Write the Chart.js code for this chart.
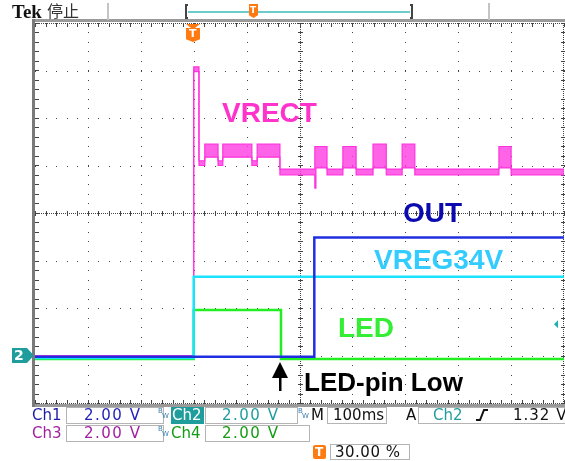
<!DOCTYPE html>
<html>
<head>
<meta charset="utf-8">
<script src="https://cdn.jsdelivr.net/npm/chart.js@4.4.1/dist/chart.umd.min.js"></script>
<style>
  body { margin: 0; background: #fff; }
  #wrap { position: relative; width: 565px; height: 461px; overflow: hidden; font-family: "DejaVu Sans", sans-serif; }
  #scope { position: absolute; left: 0; top: 0; }
  .t { position: absolute; white-space: pre; font-size: 15px; line-height: 15px; }
  .box { position: absolute; border: 1px solid #b4b4b4; box-sizing: border-box; height: 17px; }
  .lbl { position: absolute; white-space: pre; font-family: "Liberation Sans", Arial, sans-serif; font-weight: bold; font-size: 28px; line-height: 28px; }
  .bw { position: absolute; font-size: 7px; line-height: 7px; color: #3a7fb0; }
</style>
</head>
<body>
<div id="wrap">
  <canvas id="scope" width="565" height="461"></canvas>

  <!-- top bar -->
  <div class="t" style="left:12px;top:2px;font-family:'Liberation Serif',serif;font-weight:bold;font-size:19px;line-height:19px;color:#111">Tek</div>
  <div class="t" style="left:47px;top:2px;font-family:'Noto Sans CJK SC',sans-serif;font-size:16px;line-height:16px;color:#333">停止</div>
  <div style="position:absolute;left:107px;top:3px;width:2px;height:17px;background:#c4c4c4"></div>
  <div style="position:absolute;left:488px;top:3px;width:2px;height:17px;background:#c4c4c4"></div>
  <div style="position:absolute;left:185px;top:4px;width:3px;height:15px;border:2px solid #444;border-right:none;box-sizing:border-box"></div>
  <div style="position:absolute;left:410px;top:4px;width:3px;height:15px;border:2px solid #444;border-left:none;box-sizing:border-box"></div>
  <div style="position:absolute;left:188px;top:11px;width:222px;height:2px;background:#6ccccc"></div>
  <div style="position:absolute;left:249px;top:4px;width:9px;height:14px;background:#ff7a10;clip-path:polygon(0 0,100% 0,100% 80%,50% 100%,0 80%)"></div>
  <div class="t" style="left:250px;top:6px;font-size:9px;line-height:9px;font-weight:bold;color:#fff">T</div>

  <!-- trigger position marker -->
  <div style="position:absolute;left:186px;top:24px;width:14px;height:18px;background:#ff7a10;clip-path:polygon(0 0,100% 0,64% 22%,100% 22%,100% 85%,50% 100%,0 85%,0 22%,36% 22%)"></div>
  <div class="t" style="left:189px;top:28px;font-size:11px;line-height:11px;font-weight:bold;color:#fff">T</div>

  <!-- channel 2 ground marker -->
  <div style="position:absolute;left:12px;top:348px;width:22px;height:15px;background:#1f9d9d;clip-path:polygon(0 0,68% 0,100% 50%,68% 100%,0 100%)"></div>
  <div class="t" style="left:14px;top:348px;font-weight:bold;color:#fff;font-size:14px;line-height:15px">2</div>

  <!-- trace labels -->
  <div class="lbl" style="left:222px;top:99px;color:#ff33cc">VRECT</div>
  <div class="lbl" style="left:403px;top:199px;color:#0a0ab0">OUT</div>
  <div class="lbl" style="left:374px;top:246px;color:#33ccff">VREG34V</div>
  <div class="lbl" style="left:338px;top:314px;color:#33ee33">LED</div>
  <div class="lbl" style="left:304px;top:369px;color:#000;font-size:26px;line-height:26px">LED-pin Low</div>
  <svg style="position:absolute;left:270px;top:360px" width="20" height="32">
    <polygon points="10,2 18,18 2,18" fill="#000"/>
    <rect x="9" y="16" width="2.5" height="15" fill="#000"/>
  </svg>

  <!-- status row 1 -->
  <div class="t" style="left:32px;top:408px;color:#1c1ca8">Ch1</div>
  <div class="box" style="left:66px;top:407px;width:98px"></div>
  <div class="t" style="left:84px;top:408px;color:#2222bb;letter-spacing:1.5px">2.00 V</div>
  <div class="bw" style="left:158px;top:408px">B</div><div class="bw" style="left:162px;top:413px">W</div>
  <div style="position:absolute;left:171px;top:407px;width:33px;height:17px;background:#1f9d9d"></div>
  <div class="t" style="left:172px;top:408px;color:#fff">Ch2</div>
  <div class="box" style="left:205px;top:407px;width:93px"></div>
  <div class="t" style="left:222px;top:408px;color:#1f9d9d;letter-spacing:1.5px">2.00 V</div>
  <div class="bw" style="left:298px;top:408px">B</div><div class="bw" style="left:302px;top:413px">W</div>
  <div class="t" style="left:311px;top:408px;color:#111">M</div>
  <div class="box" style="left:327px;top:407px;width:60px"></div>
  <div class="t" style="left:333px;top:408px;color:#111">100ms</div>
  <div class="t" style="left:406px;top:408px;color:#111">A</div>
  <div class="box" style="left:418px;top:407px;width:150px"></div>
  <div class="t" style="left:433px;top:408px;color:#1f9d9d">Ch2</div>
  <svg style="position:absolute;left:475px;top:408px" width="14" height="14">
    <polyline points="1,12 5,12 9,2 13,2" fill="none" stroke="#111" stroke-width="2"/>
  </svg>
  <div class="t" style="left:513px;top:408px;color:#111;letter-spacing:1px">1.32 V</div>

  <!-- status row 2 -->
  <div class="t" style="left:32px;top:426px;color:#a01fa0">Ch3</div>
  <div class="box" style="left:66px;top:425px;width:98px"></div>
  <div class="t" style="left:84px;top:426px;color:#a01fa0;letter-spacing:1.5px">2.00 V</div>
  <div class="bw" style="left:158px;top:426px">B</div><div class="bw" style="left:162px;top:431px">W</div>
  <div class="t" style="left:171px;top:426px;color:#139c13">Ch4</div>
  <div class="box" style="left:205px;top:425px;width:105px"></div>
  <div class="t" style="left:222px;top:426px;color:#139c13;letter-spacing:1.5px">2.00 V</div>

  <!-- status row 3 -->
  <div style="position:absolute;left:313px;top:445px;width:13px;height:14px;background:#ff7a10;border-radius:2px"></div>
  <div class="t" style="left:315px;top:446px;font-size:12px;line-height:12px;font-weight:bold;color:#fff">T</div>
  <div class="box" style="left:330px;top:444px;width:80px;height:16px"></div>
  <div class="t" style="left:335px;top:445px;color:#111;letter-spacing:0.5px">30.00 %</div>
</div>

<script>
// horizontal: ms, 100 ms/div, trigger at 0 (30 %)
const timeRange = [-300, 700]
// vertical: volts, 2 V/div, all grounds one division above the bottom
const voltRange = [-2, 14]
const triggerLevel = 1.32

// Ch3 VRECT: segment boundaries and the upper/lower edge of the noisy trace
const vrectEdges = [-300, 0, 10, 21, 46, 55, 110, 120, 163, 229, 231, 252, 282, 307, 339, 364, 394, 418, 577, 600, 700]
const vrectHigh = [0, 12.15, 8.2, 8.9, 8.2, 8.9, 8.2, 8.9, 7.85, 8.8, 8.8, 7.85, 8.8, 7.85, 8.9, 7.85, 8.9, 7.85, 8.8, 7.85]
const vrectLow = [0, 11.95, 8.0, 8.35, 8.0, 8.35, 8.0, 8.35, 7.6, 7.05, 7.9, 7.6, 7.9, 7.6, 7.9, 7.6, 7.9, 7.6, 7.9, 7.6]

// Ch1 OUT
const outEdges = [-300, 228, 700]
const outLevel = [-0.05, 4.97]
// Ch2 VREG34V
const vregEdges = [-300, 0, 700]
const vregLevel = [-0.1, 3.32]
// Ch4 LED
const ledEdges = [-300, 0, 165, 700]
const ledLevel = [-0.15, 1.92, -0.15]

function steps(edges, levels) {
  const pts = []
  for (let i = 0; i < levels.length; i++) {
    pts.push({ x: edges[i], y: levels[i] })
    pts.push({ x: edges[i + 1], y: levels[i] })
  }
  return pts
}

const graticule = {
  id: 'graticule',
  beforeDatasetsDraw(chart) {
    const { ctx, chartArea: a, scales: { x, y } } = chart
    const px = t => Math.round(x.getPixelForValue(t))
    const py = v => Math.round(y.getPixelForValue(v))
    ctx.save()
    // frame
    ctx.fillStyle = '#9a9a9a'
    ctx.fillRect(a.left - 2, a.top - 4, a.right - a.left + 4, 3)
    ctx.fillRect(a.left - 2, a.bottom + 1, a.right - a.left + 4, 3)
    ctx.fillStyle = '#7a7a7a'
    ctx.fillRect(a.left - 3, a.top - 4, 3, a.bottom - a.top + 8)

    ctx.fillStyle = '#444'
    // grid dots
    for (let t = timeRange[0]; t <= timeRange[1]; t += 100) {
      for (let v = voltRange[0]; v <= voltRange[1] + 0.01; v += 0.4) ctx.fillRect(px(t), py(v), 1, 1)
    }
    for (let v = voltRange[0]; v <= voltRange[1] + 0.01; v += 2) {
      for (let t = timeRange[0]; t <= timeRange[1]; t += 20) ctx.fillRect(px(t), py(v), 1, 1)
    }
    // centre cross
    const cx = px((timeRange[0] + timeRange[1]) / 2)
    const cy = py((voltRange[0] + voltRange[1]) / 2)
    for (let yy = a.top; yy <= a.bottom; yy += 2) ctx.fillRect(cx, yy, 1, 1)
    for (let xx = a.left; xx <= a.right; xx += 2) ctx.fillRect(xx, cy, 1, 1)
    for (let t = timeRange[0]; t <= timeRange[1]; t += 20) {
      ctx.fillRect(px(t), cy - 2, 1, 5)
      ctx.fillRect(px(t), a.top, 1, 4)
      ctx.fillRect(px(t), a.bottom - 3, 1, 4)
    }
    for (let v = voltRange[0]; v <= voltRange[1] + 0.01; v += 0.4) {
      ctx.fillRect(cx - 2, py(v), 5, 1)
      ctx.fillRect(a.left, py(v), 4, 1)
      ctx.fillRect(a.right - 3, py(v), 4, 1)
    }
    // edges dotted
    for (let xx = a.left; xx <= a.right; xx += 2) {
      ctx.fillRect(xx, a.top, 1, 1)
      ctx.fillRect(xx, a.bottom, 1, 1)
    }
    for (let yy = a.top; yy <= a.bottom; yy += 2) ctx.fillRect(a.right - 1, yy, 1, 1)
    ctx.restore()
  },
  afterDatasetsDraw(chart) {
    const { ctx, chartArea: a, scales: { y } } = chart
    const ty = y.getPixelForValue(triggerLevel)
    ctx.save()
    ctx.fillStyle = '#1fb0b0'
    ctx.beginPath()
    ctx.moveTo(a.right - 10, ty)
    ctx.lineTo(a.right - 6, ty - 4)
    ctx.lineTo(a.right - 6, ty + 4)
    ctx.closePath()
    ctx.fill()
    ctx.restore()
  }
}

const line = (data, color, order, extra) => Object.assign({
  data, borderColor: color, borderWidth: 2.5, pointRadius: 0, tension: 0, fill: false, order
}, extra || {})

new Chart(document.getElementById('scope'), {
  type: 'line',
  data: {
    datasets: [
      line(steps(vrectEdges, vrectHigh), '#ff33dd', 4, { borderWidth: 1.2 }),
      line(steps(vrectEdges, vrectLow), '#ff33dd', 4, { borderWidth: 1.2, fill: '-1', backgroundColor: 'rgba(255,60,225,0.8)' }),
      line(steps(ledEdges, ledLevel), '#22ee22', 3),
      line(steps(vregEdges, vregLevel), '#18e4ff', 2),
      line(steps(outEdges, outLevel), '#1f2fe0', 1)
    ]
  },
  options: {
    responsive: false,
    animation: false,
    layout: { padding: { left: 35, top: 23, right: 1, bottom: 58 } },
    plugins: { legend: { display: false }, tooltip: { enabled: false } },
    scales: {
      x: { type: 'linear', display: false, min: timeRange[0], max: timeRange[1] },
      y: { type: 'linear', display: false, min: voltRange[0], max: voltRange[1] }
    }
  },
  plugins: [graticule]
})
</script>
</body>
</html>
